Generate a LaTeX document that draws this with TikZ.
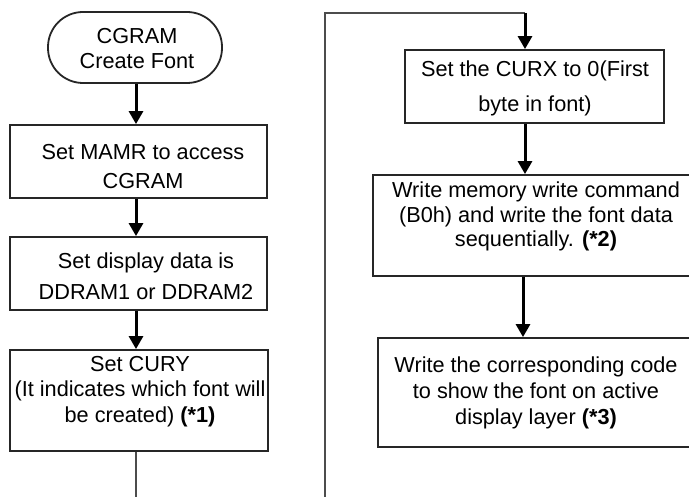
\documentclass[tikz,border=0pt]{standalone}
\usepackage{fontspec}
\setmainfont{Liberation Sans}
\usetikzlibrary{arrows.meta,calc}
\begin{document}
\begin{tikzpicture}[x=1pt,y=-1pt,
  box/.style={draw=black!85,line width=1.8pt,rectangle,inner sep=0pt},
  txt/.style={align=center,inner sep=0pt},
  flow/.style={line width=3pt,-{Triangle[length=13pt,width=14pt]}},
  link/.style={draw=black!70,line width=2pt}]
\useasboundingbox (0,0) rectangle (689,497);
% left column
\node[box,rounded corners=35pt,minimum width=174pt,minimum height=71pt] (term) at (135,47.5) {};
\node[txt,font=\fontsize{21.7}{25}\selectfont] (tterm) at (137,48.5) {CGRAM\\Create Font};
\node[box,minimum width=257pt,minimum height=73pt] (b1) at (138.5,161.5) {};
\node[txt,font=\fontsize{21.7}{29}\selectfont] (t1) at (143,166.5) {Set MAMR to access\\CGRAM};
\node[box,minimum width=257pt,minimum height=73pt] (b2) at (138.5,273.5) {};
\node[txt,font=\fontsize{21.7}{31}\selectfont] (t2) at (146,276.5) {Set display data is\\DDRAM1 or DDRAM2};
\node[box,minimum width=258pt,minimum height=101pt] (b3) at (139,400.5) {};
\node[txt,font=\fontsize{21.7}{25.5}\selectfont] (t3) at (140,391.5) {Set CURY\\(It indicates which font will\\be created) \textbf{(*1)}};
% right column
\node[box,minimum width=259pt,minimum height=73pt] (a) at (534.5,86.5) {};
\node[txt,font=\fontsize{21.7}{35}\selectfont] (ta) at (535,88.5) {Set the CURX to 0(First\\byte in font)};
\node[box,minimum width=326pt,minimum height=101pt] (bb) at (536,225.5) {};
\node[txt,font=\fontsize{21.7}{24.5}\selectfont] (tb) at (536,216.5) {Write memory write command\\(B0h) and write the font data\\sequentially. \textbf{(*2)}};
\node[box,minimum width=316pt,minimum height=109pt] (c) at (536,392.5) {};
\node[txt,font=\fontsize{21.7}{26}\selectfont] (tc) at (536,393) {Write the corresponding code\\to show the font on active\\display layer \textbf{(*3)}};
% connectors left
\coordinate (lx) at (136,0);
\coordinate (lb) at (136,497);
\draw[flow] (lx |- term.south) -- (lx |- b1.north);
\draw[flow] (lx |- b1.south) -- (lx |- b2.north);
\draw[flow] (lx |- b2.south) -- (lx |- b3.north);
\draw[link] (lx |- b3.south) -- (lb);
% connectors right
\coordinate (rb) at (325,497);
\coordinate (rt) at (325,13);
\coordinate (rx) at (525,13);
\coordinate (rx2) at (523,0);
\draw[link] (rb) -- (rt) -- (rx);
\draw[flow] (rx) -- (rx |- a.north);
\draw[flow] (rx |- a.south) -- (rx |- bb.north);
\draw[flow] (rx2 |- bb.south) -- (rx2 |- c.north);
\end{tikzpicture}
\end{document}
